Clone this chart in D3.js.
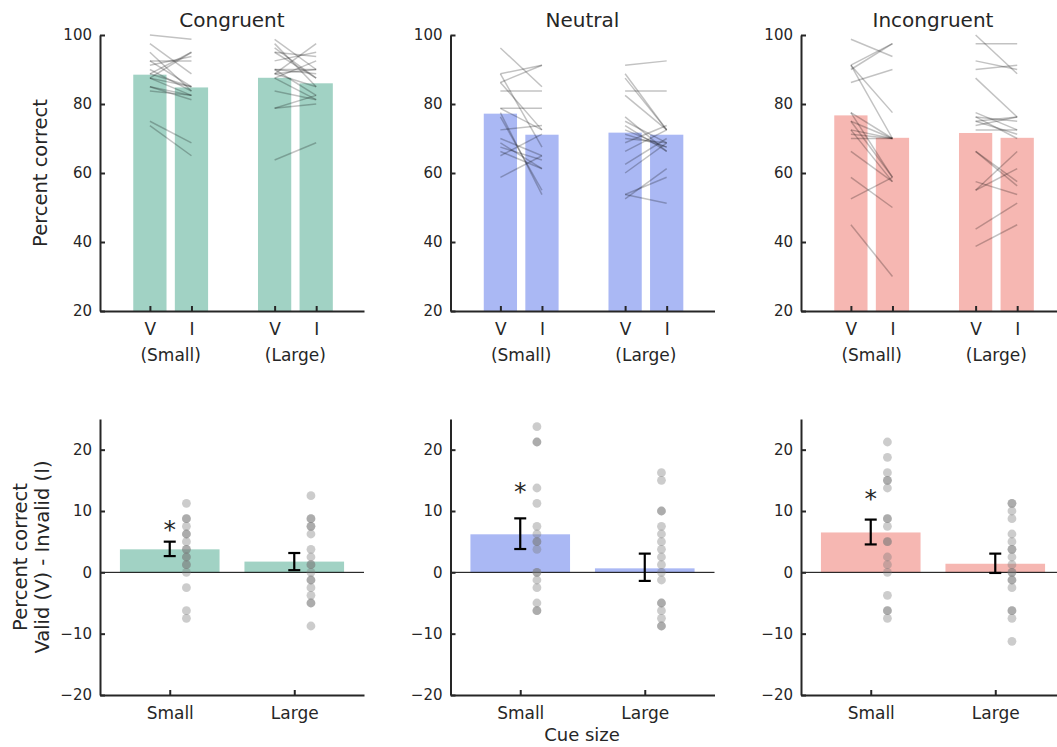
<!DOCTYPE html>
<html>
<head>
<meta charset="utf-8">
<script src="https://cdn.jsdelivr.net/npm/d3@7"></script>
<style>
  body { margin: 0; background: #fff; }
  svg text { font-family: "DejaVu Sans", sans-serif; fill: #262626; }
</style>
</head>
<body>
<div class="container"></div>
<script>
(function() {
  // Chart data
  var panelNames = ['Congruent', 'Neutral', 'Incongruent'];
  var barColors = ['#a1d2c4', '#aab8f4', '#f6b7b2'];

  // top row: mean percent correct for V small, I small, V large, I large
  var topMeans = [
    [88.5, 84.8, 87.6, 86.0],
    [77.2, 71.1, 71.7, 71.1],
    [76.7, 70.2, 71.6, 70.2]
  ];
  var topTickLabels = ['V', 'I', 'V', 'I'];
  var groupLabels = ['(Small)', '(Large)'];

  // bottom row: mean V - I difference and error bar ends, small then large
  var diffMeans = [[3.75, 1.75], [6.2, 0.65], [6.5, 1.4]];
  var errLow = [[2.65, 0.35], [3.8, -1.4], [4.55, -0.1]];
  var errHigh = [[5.0, 3.15], [8.8, 3.05], [8.6, 3.05]];
  var starLevel = [7.8, 14.0, 13.0];   // where the * sits above the small-cue bar
  var cueLabels = ['Small', 'Large'];

  // single subjects: valid score and V - I difference
  var smallValid = [
    [95, 97.5, 73.75, 92.5, 75, 90, 87.5, 88.75, 85, 85, 87.5, 100, 83.75, 92.5, 91.25, 88.75, 87.5],
    [77.5, 88.75, 76.25, 86.25, 96.25, 68.75, 78.75, 70, 66.25, 67.5, 83.75, 78.75, 72.5, 88.75, 86.25, 58.75, 65],
    [91.25, 77.5, 75, 45, 72.5, 91.25, 66.25, 58.75, 77.5, 98.75, 75, 72.5, 71.25, 70, 86.25, 91.25, 52.5, 90]
  ];
  var smallDiff = [
    [11.25, 8.75, 8.75, 7.5, 6.25, 6.25, 5, 3.75, 3.75, 2.5, 2.5, 1.25, 1.25, 0, -2.5, -6.25, -7.5],
    [23.75, 21.25, 21.25, 13.75, 11.25, 7.5, 6.25, 5, 5, 3.75, 0, 0, -1.25, -2.5, -5, -6.25, -6.25],
    [21.25, 18.75, 16.25, 15, 15, 13.75, 8.75, 8.75, 7.5, 5, 5, 2.5, 1.25, 0, -3.75, -6.25, -6.25, -7.5]
  ];
  var largeValid = [
    [97.5, 96.25, 98.75, 95, 90, 87.5, 88.75, 83.75, 95, 90, 90, 78.75, 88.75, 92.5, 78.75, 63.75, 87.5, 88.75],
    [88.75, 87.5, 82.5, 76.25, 73.75, 75, 72.5, 71.25, 53.75, 70, 83.75, 91.25, 53.75, 68.75, 66.25, 62.5, 52.5, 60],
    [100, 87.5, 66.25, 66.25, 76.25, 77.5, 75, 57.5, 92.5, 76.25, 97.5, 72.5, 90, 75, 73.75, 55, 38.75, 43.75, 55]
  ];
  var largeDiff = [
    [12.5, 8.75, 8.75, 7.5, 7.5, 6.25, 3.75, 2.5, 1.25, 1.25, 0, -1.25, -1.25, -2.5, -3.75, -5, -5, -8.75],
    [16.25, 15, 10, 10, 7.5, 6.25, 5, 3.75, 2.5, 1.25, 0, -1.25, -5, -5, -6.25, -7.5, -8.75, -8.75],
    [11.25, 11.25, 10, 8.75, 6.25, 5, 3.75, 3.75, 2.5, 1.25, 0, 0, -1.25, -1.25, -2.5, -6.25, -6.25, -7.5, -11.25]
  ];

  var topYTicks = [20, 40, 60, 80, 100];
  var botYTicks = [-20, -10, 0, 10, 20];

  var width = 1057, height = 747;
  var panelX = [100, 450.5, 801];
  var panelW = 264;
  var axisColor = '#262626';
  var labelSize = 19.5;

  var svg = d3.select('div.container').append('svg')
    .attr('width', width).attr('height', height);

  var yTop = d3.scaleLinear().domain([20, 100]).range([311, 35]);
  var yBot = d3.scaleLinear().domain([-20, 25]).range([695, 419]);

  var styleAxis = function(size) {
    return function(g) {
      g.selectAll('path.domain').attr('stroke', axisColor).attr('stroke-width', 2);
      g.selectAll('.tick line').attr('stroke', axisColor).attr('stroke-width', 2);
      g.selectAll('.tick text').attr('font-size', size).attr('fill', axisColor)
        .style('font-family', '"DejaVu Sans", sans-serif');
    };
  };

  panelNames.forEach(function(name, p) {
    var x0 = panelX[p];
    var xTop = d3.scaleLinear().domain([-0.2, 6.15]).range([x0, x0 + panelW]);
    var xBot = d3.scaleLinear().domain([0.44, 2.56]).range([x0, x0 + panelW]);
    var topPos = [1, 2, 4, 5];
    var barW = xTop(0.8) - xTop(0);

    // ---- top row ----
    var top = svg.append('g');
    top.selectAll('rect').data(topMeans[p]).enter().append('rect')
      .attr('x', function(d, i) { return xTop(topPos[i]) - barW / 2; })
      .attr('width', barW)
      .attr('y', function(d) { return yTop(d); })
      .attr('height', function(d) { return yTop(20) - yTop(d); })
      .attr('fill', barColors[p]);

    [[smallValid[p], smallDiff[p], 1], [largeValid[p], largeDiff[p], 4]].forEach(function(set) {
      top.selectAll(null).data(set[0]).enter().append('line')
        .attr('x1', xTop(set[2]))
        .attr('x2', xTop(set[2] + 1))
        .attr('y1', function(d) { return yTop(d); })
        .attr('y2', function(d, i) { return yTop(d - set[1][i]); })
        .attr('stroke', '#000').attr('stroke-opacity', 0.24).attr('stroke-width', 1.5);
    });

    top.append('g').attr('transform', 'translate(' + x0 + ',0)')
      .call(d3.axisLeft(yTop).tickValues(topYTicks).tickSizeInner(-5).tickSizeOuter(0).tickPadding(8))
      .call(styleAxis(15));
    top.append('g').attr('transform', 'translate(0,311)')
      .call(d3.axisBottom(xTop).tickValues(topPos).tickSizeInner(-5).tickSizeOuter(0).tickPadding(12)
        .tickFormat(function(d, i) { return topTickLabels[i]; }))
      .call(styleAxis(17));

    top.selectAll(null).data(groupLabels).enter().append('text')
      .attr('x', function(d, i) { return xTop(topPos[i * 2] + 0.5); })
      .attr('y', 361)
      .attr('text-anchor', 'middle').attr('font-size', 17)
      .text(function(d) { return d; });

    top.append('text')
      .attr('x', x0 + panelW / 2).attr('y', 27)
      .attr('text-anchor', 'middle').attr('font-size', 20)
      .text(name);

    // ---- bottom row ----
    var bot = svg.append('g');
    var bw = xBot(0.8) - xBot(0);
    bot.selectAll('rect').data(diffMeans[p]).enter().append('rect')
      .attr('x', function(d, i) { return xBot(i + 1) - bw / 2; })
      .attr('width', bw)
      .attr('y', function(d) { return yBot(Math.max(d, 0)); })
      .attr('height', function(d) { return Math.abs(yBot(0) - yBot(d)); })
      .attr('fill', barColors[p]);

    bot.append('line')
      .attr('x1', x0).attr('x2', x0 + panelW)
      .attr('y1', yBot(0)).attr('y2', yBot(0))
      .attr('stroke', '#000').attr('stroke-width', 1);

    [smallDiff[p], largeDiff[p]].forEach(function(diffs, k) {
      bot.selectAll(null).data(diffs).enter().append('circle')
        .attr('cx', xBot(k + 1 + 0.134))
        .attr('cy', function(d) { return yBot(d); })
        .attr('r', 4.4)
        .attr('fill', '#7a7a7a').attr('fill-opacity', 0.38);
    });

    var capW = 6;
    diffMeans[p].forEach(function(m, k) {
      var cx = xBot(k + 1);
      var eb = bot.append('g').attr('stroke', '#000').attr('stroke-width', 2.2);
      eb.append('line').attr('x1', cx).attr('x2', cx)
        .attr('y1', yBot(errLow[p][k])).attr('y2', yBot(errHigh[p][k]));
      eb.append('line').attr('x1', cx - capW).attr('x2', cx + capW)
        .attr('y1', yBot(errLow[p][k])).attr('y2', yBot(errLow[p][k]));
      eb.append('line').attr('x1', cx - capW).attr('x2', cx + capW)
        .attr('y1', yBot(errHigh[p][k])).attr('y2', yBot(errHigh[p][k]));
    });

    bot.append('text')
      .attr('x', xBot(1)).attr('y', yBot(starLevel[p]) + 14)
      .attr('text-anchor', 'middle').attr('font-size', 25).attr('fill', '#000')
      .text('*');

    bot.append('g').attr('transform', 'translate(' + x0 + ',0)')
      .call(d3.axisLeft(yBot).tickValues(botYTicks).tickSizeInner(-5).tickSizeOuter(0).tickPadding(8))
      .call(styleAxis(15));
    bot.append('g').attr('transform', 'translate(0,695)')
      .call(d3.axisBottom(xBot).tickValues([1, 2]).tickSizeInner(-5).tickSizeOuter(0).tickPadding(12)
        .tickFormat(function(d, i) { return cueLabels[i]; }))
      .call(styleAxis(17));
  });

  // axis titles
  svg.append('text')
    .attr('transform', 'translate(47,173) rotate(-90)')
    .attr('text-anchor', 'middle').attr('font-size', labelSize)
    .text('Percent correct');
  svg.append('text')
    .attr('transform', 'translate(27,557) rotate(-90)')
    .attr('text-anchor', 'middle').attr('font-size', labelSize)
    .text('Percent correct');
  svg.append('text')
    .attr('transform', 'translate(49,557) rotate(-90)')
    .attr('text-anchor', 'middle').attr('font-size', labelSize)
    .text('Valid (V) - Invalid (I)');
  svg.append('text')
    .attr('x', 582).attr('y', 741)
    .attr('text-anchor', 'middle').attr('font-size', 18)
    .text('Cue size');
}).call(this);
</script>
</body>
</html>
